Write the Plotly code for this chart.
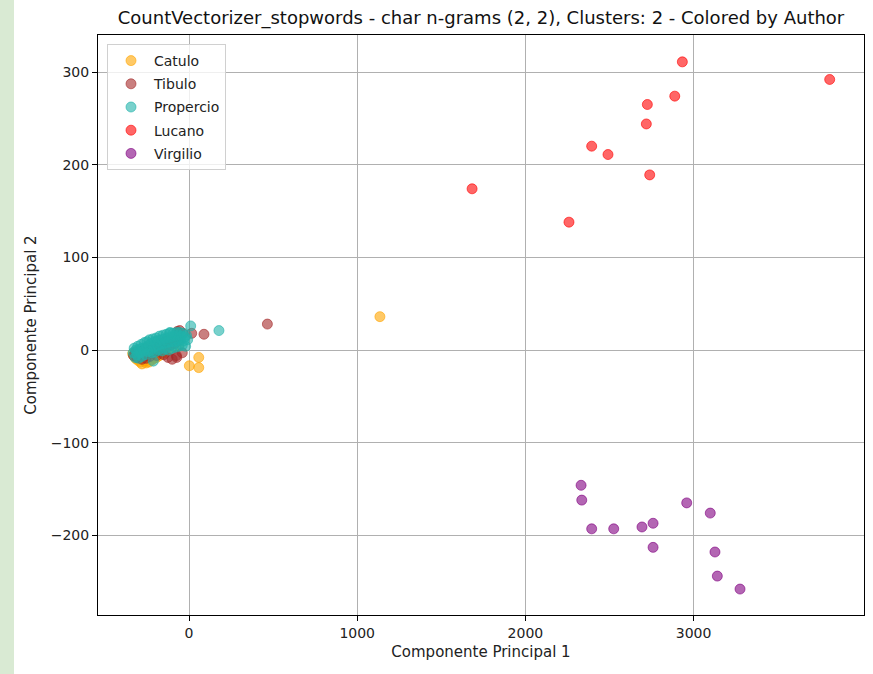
import plotly.graph_objects as go

# PCA projection of the documents, one list pair per author
catulo_x = [-335, -328, -322, -318, -312, -305, -300, -296, -290, -285, -280, -272,
            -268, -260, -255, -250, -245, -238, -230, -222, -215, -208, -200, -192,
            -185, -175, -168, -160, -150, -140, -130, -120, -110, -95, -80, -60,
            2, 58, 58, 1135]
catulo_y = [-4, -6, -2, -9, -5, -11, -7, -3, -13, -8, -15, -10,
            -6, -12, -14, -4, -9, -13, -7, -11, -3, -9, -5, -8,
            -2, -6, 0, -4, 2, -3, 4, 1, 6, 3, 8, 5,
            -17, -8, -19, 36]

tibulo_x = [-330, -320, -310, -300, -290, -280, -270, -262, -255, -248, -240, -232,
            -225, -218, -210, -200, -192, -185, -178, -170, -160, -150, -142, -135,
            -125, -118, -110, -100, -92, -85, -75, -70, -60, -55, -40, -36,
            -73, 16, 89, 466]
tibulo_y = [-6, -3, -8, -1, -5, -10, 0, -4, -9, 3, -2, -7,
            2, -3, 5, 0, -6, 4, -1, 7, 2, -5, 9, 3,
            -8, 11, 5, -10, 13, 7, -6, 20, 10, 21, -3, 18,
            -8, 18, 17, 28]

propercio_x = [-332, -326, -320, -316, -310, -305, -300, -296, -290, -285, -280, -276,
               -270, -265, -260, -255, -250, -245, -240, -235, -230, -225, -220, -215,
               -210, -205, -200, -195, -190, -185, -180, -175, -170, -165, -160, -155,
               -150, -145, -140, -135, -130, -125, -120, -115, -110, -105, -100, -95,
               -90, -85, -80, -75, -70, -65, -60, -55, -50, -45, -40, -35,
               -30, -25, -20, -15, -8, 10, 178, -212, -113]
propercio_y = [-3, 2, -8, 0, -5, 4, -9, 1, -3, 6, -7, 2,
               -1, 8, -5, 3, 9, -2, 5, 11, -1, 7, -3, 12,
               3, 9, -2, 13, 5, 10, 0, 15, 6, 11, -1, 16,
               7, 12, 1, 17, 8, 13, 0, 18, 9, 14, 2, 18,
               9, 15, 3, 19, 10, 16, 4, 19, 11, 15, 5, 18,
               10, 14, 4, 16, 11, 26, 21, -12, 19]

lucano_x = [2933, 3809, 2888, 2725, 2719, 2394, 2491, 2739, 2259, 1683]
lucano_y = [311, 292, 274, 265, 244, 220, 211, 189, 138, 174]

virgilio_x = [2331, 2335, 2394, 2525, 2693, 2759, 2759, 2959, 3099, 3127, 3141, 3276]
virgilio_y = [-146, -162, -193, -193, -191, -187, -213, -165, -176, -218, -244, -258]

authors = ["Catulo", "Tibulo", "Propercio", "Lucano", "Virgilio"]
series_x = [catulo_x, tibulo_x, propercio_x, lucano_x, virgilio_x]
series_y = [catulo_y, tibulo_y, propercio_y, lucano_y, virgilio_y]
rgb = ["255,165,0", "165,42,42", "32,178,170", "255,0,0", "128,0,128"]

FONT = "DejaVu Sans"

fig = go.Figure()
for name, xs, ys, c in zip(authors, series_x, series_y, rgb):
    fig.add_trace(go.Scatter(
        x=xs, y=ys, mode="markers", name=name, legendgroup=name,
        marker=dict(size=10, color=f"rgba({c},0.6)",
                    line=dict(width=1, color=f"rgba({c},0.6)")),
    ))

W, H = 873, 674
L, R, T, B = 98, 9, 35, 59
pw, ph = W - L - R, H - T - B

axis_common = dict(
    showline=True, linecolor="black", linewidth=1, mirror=True,
    showgrid=True, gridcolor="#b0b0b0", gridwidth=0.8,
    zeroline=False, ticks="outside", ticklen=5, tickcolor="black",
    tickfont=dict(family=FONT, size=14, color="#222"),
)

fig.update_layout(
    width=W, height=H,
    margin=dict(l=L, r=R, t=T, b=B),
    paper_bgcolor="white", plot_bgcolor="white",
    font=dict(family=FONT, color="black"),
    title=dict(text="CountVectorizer_stopwords - char n-grams (2, 2), Clusters: 2 - Colored by Author",
               x=(L + pw / 2) / W, xanchor="center", y=1 - 18 / H, yanchor="middle",
               font=dict(family=FONT, size=18, color="#111")),
    xaxis=dict(range=[-541, 4013], tickvals=[0, 1000, 2000, 3000],
               title=dict(text="Componente Principal 1", font=dict(family=FONT, size=15, color="#222"), standoff=6),
               **axis_common),
    yaxis=dict(range=[-286, 340], tickvals=[-200, -100, 0, 100, 200, 300],
               tickformat="d",
               title=dict(text="Componente Principal 2", font=dict(family=FONT, size=15, color="#222"), standoff=10),
               **axis_common),
    legend=dict(x=9 / pw, y=1 - 9 / ph, xanchor="left", yanchor="top",
                bgcolor="rgba(255,255,255,0.8)", bordercolor="#d0d0d0", borderwidth=1,
                font=dict(family=FONT, size=14, color="#222"),
                tracegroupgap=2, itemwidth=36),
    showlegend=True,
    shapes=[dict(type="rect", xref="paper", yref="paper",
                 x0=-L / pw, x1=(14 - L) / pw, y0=-B / ph, y1=1 + T / ph,
                 fillcolor="#d9ead3", line=dict(width=0), layer="below")],
)

fig.write_html("out.html")
